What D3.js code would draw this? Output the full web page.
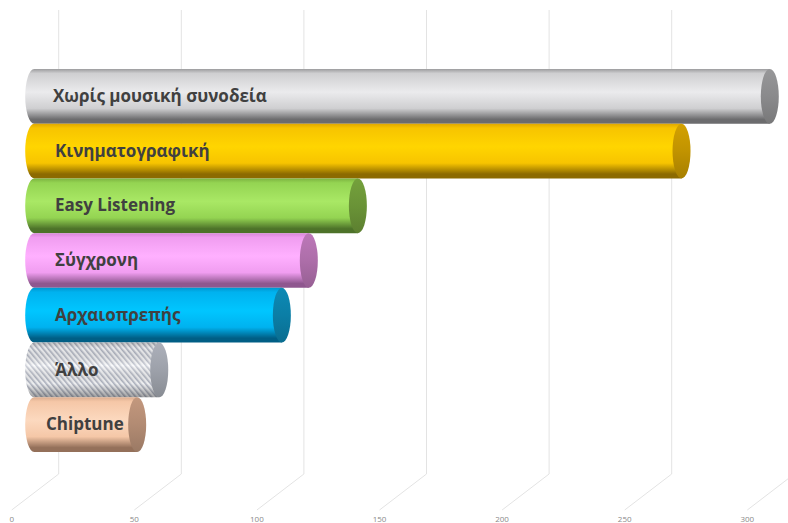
<!DOCTYPE html>
<html>
<head>
<meta charset="utf-8">
<script src="https://cdn.jsdelivr.net/npm/d3@7"></script>
<style>
html,body{margin:0;padding:0;background:#fff;overflow:hidden;}
svg{display:block;}
</style>
</head>
<body>
<svg id="chart" width="788" height="523"></svg>
<script>
// ---- data ----
const categories = ["Χωρίς μουσική συνοδεία","Κινηματογραφική","Easy Listening","Σύγχρονη","Αρχαιοπρεπής","Άλλο","Chiptune"];
const values = [300, 264, 132, 112, 101, 51, 42];
const tickValues = [0, 50, 100, 150, 200, 250, 300];
const tickLabels = ["0", "50", "100", "150", "200", "250", "300"];

// ---- styles (per bar) ----
const palettes = [
  {top:"#9c9c9e", hi:"#ebebed", mid:"#cfcfd1", bot:"#6c6c6e", cap:"#8a8a8c"},
  {top:"#e0a800", hi:"#ffd500", mid:"#f7c400", bot:"#8c6a00", cap:"#c19300"},
  {top:"#7cb340", hi:"#a9e865", mid:"#94d452", bot:"#4d7229", cap:"#6a9337"},
  {top:"#d886d8", hi:"#ffb0ff", mid:"#f09df0", bot:"#8f578f", cap:"#ad6ea9"},
  {top:"#0098d0", hi:"#00c6ff", mid:"#00b2ef", bot:"#005e85", cap:"#0b7ea6"},
  {top:"#a8acb6", hi:"#f2f3f6", mid:"#dfe1e6", bot:"#7c8088", cap:"#9da1aa", pattern:true},
  {top:"#dcae90", hi:"#fcd9bf", mid:"#f5c7a7", bot:"#94705a", cap:"#b28b73"}
];

const svg = d3.select("#chart");
const defs = svg.append("defs");

// back-plane scale and oblique depth
const xBack = d3.scaleLinear().domain([0, 300]).range([58.7, 58.7 + 300 * 2.452]);
const depthDx = -47, depthDy = 36;
const barShift = -24.5; // bars sit at mid-depth
const y = d3.scaleBand().domain(categories).range([69, 452]).padding(0);

const gridTop = 10, gridBottom = 474;

// gridlines: vertical back wall + floor diagonals
const grid = svg.append("g");
tickValues.forEach(v => {
  const x = xBack(v);
  grid.append("line").attr("x1", x).attr("x2", x).attr("y1", gridTop).attr("y2", gridBottom)
    .attr("stroke", "#e3e3e3").attr("stroke-width", 1);
  grid.append("line").attr("x1", x).attr("y1", gridBottom).attr("x2", x + depthDx).attr("y2", gridBottom + depthDy)
    .attr("stroke", "#e3e3e3").attr("stroke-width", 1);
});
// tick labels on the front floor edge
svg.append("g").selectAll("text").data(tickValues).join("text")
  .attr("x", d => xBack(d) + depthDx)
  .attr("y", 522)
  .attr("text-anchor", "middle")
  .attr("font-family", "'Open Sans', sans-serif")
  .attr("font-size", 8)
  .attr("fill", "#8a8a8a")
  .text((d, i) => tickLabels[i]);

// gradients
palettes.forEach((p, i) => {
  const g = defs.append("linearGradient").attr("id", "body" + i)
    .attr("x1", 0).attr("y1", 0).attr("x2", 0).attr("y2", 1);
  [[0, p.top], [0.08, p.mid], [0.42, p.hi], [0.72, p.mid], [0.92, p.bot], [1, p.bot]]
    .forEach(([o, c]) => g.append("stop").attr("offset", o).attr("stop-color", c));
  const c = defs.append("linearGradient").attr("id", "cap" + i)
    .attr("x1", 0).attr("y1", 0).attr("x2", 0).attr("y2", 1);
  [[0, d3.color(p.cap).brighter(0.25)], [0.5, p.cap], [1, d3.color(p.cap).darker(0.4)]]
    .forEach(([o, col]) => c.append("stop").attr("offset", o).attr("stop-color", col));
});
// stripe pattern for "Άλλο"
const pat = defs.append("pattern").attr("id", "stripes").attr("patternUnits", "userSpaceOnUse")
  .attr("width", 4).attr("height", 4).attr("patternTransform", "rotate(-40)");
pat.append("rect").attr("width", 4).attr("height", 4).attr("fill", "#f7f8fa");
pat.append("rect").attr("width", 1.6).attr("height", 4).attr("fill", "#b3b8c5");
const shade = defs.append("linearGradient").attr("id", "shade").attr("x1", 0).attr("y1", 0).attr("x2", 0).attr("y2", 1);
[[0, "#000", 0.22], [0.1, "#000", 0.06], [0.42, "#fff", 0.3], [0.75, "#000", 0.04], [0.95, "#000", 0.3], [1, "#000", 0.35]]
  .forEach(([o, c, a]) => shade.append("stop").attr("offset", o).attr("stop-color", c).attr("stop-opacity", a));

// bars (cylinders)
const bars = svg.append("g");
const rx = 9;
const xBar = v => xBack(v) + barShift;
categories.forEach((cat, i) => {
  const p = palettes[i];
  const y0 = y(cat), h = y.bandwidth(), ry = h / 2, cy = y0 + ry;
  const xa = xBar(0), xb = xBar(values[i]);
  const bodyPath = `M${xa},${y0} L${xb},${y0} L${xb},${y0 + h} L${xa},${y0 + h} A${rx},${ry} 0 0 1 ${xa},${y0} Z`;
  const g = bars.append("g");
  if (p.pattern) {
    g.append("path").attr("d", bodyPath).attr("fill", "url(#stripes)");
    g.append("path").attr("d", bodyPath).attr("fill", "url(#shade)");
  } else {
    g.append("path").attr("d", bodyPath).attr("fill", `url(#body${i})`);
  }
  g.append("ellipse").attr("cx", xb).attr("cy", cy).attr("rx", rx).attr("ry", ry)
    .attr("fill", `url(#cap${i})`);
});

// labels inside bars
const labelNudge = {0: -2, 6: -9};
svg.append("g").selectAll("text").data(categories).join("text")
  .attr("x", (d, i) => 55 + (labelNudge[i] || 0))
  .attr("y", d => y(d) + y.bandwidth() / 2)
  .attr("dy", "0.33em")
  .attr("font-family", "'Open Sans', sans-serif")
  .attr("font-weight", "bold")
  .attr("font-size", 17)
  .attr("fill", "#404040")
  .text(d => d);
</script>
</body>
</html>
